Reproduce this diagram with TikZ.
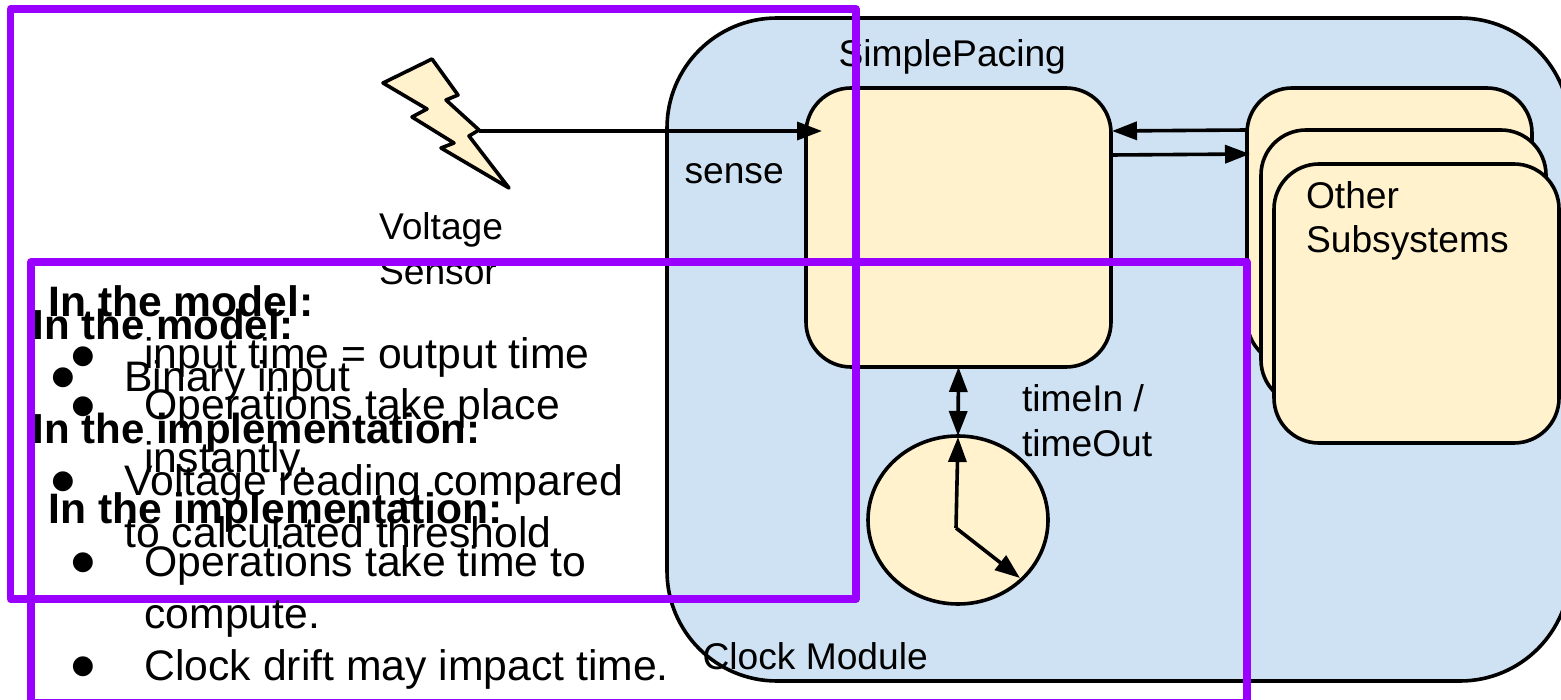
\documentclass[tikz,border=0pt]{standalone}
\usepackage{fontspec}
\setmainfont{Liberation Sans}
\newfontfamily\bulfont{DejaVu Sans}
\usetikzlibrary{arrows.meta,shapes.geometric}
\definecolor{modblue}{HTML}{CFE2F3}
\definecolor{partyellow}{HTML}{FFF2CC}
\definecolor{notepurple}{HTML}{9900FF}
\tikzset{
  blk/.style={draw=black,line width=3.6pt,outer sep=0pt,inner sep=0pt},
  modbox/.style={blk,fill=modblue,rounded corners=110pt},
  partbox/.style={blk,fill=partyellow,rounded corners=45pt},
  conn/.style={line width=3.6pt,-{Triangle[length=25pt,width=18pt]}},
  conntwo/.style={line width=3.6pt,{Triangle[length=25pt,width=18pt]}-{Triangle[length=25pt,width=18pt]}},
  note/.style={draw=notepurple,line width=7.5pt,line join=round},
  lab/.style={anchor=base west,inner sep=0pt,outer sep=0pt,font=\fontsize{37.2}{44}\selectfont},
  big/.style={anchor=base west,inner sep=0pt,outer sep=0pt,font=\fontsize{42.7}{52}\selectfont},
  bigb/.style={big,font=\fontsize{42.6}{52}\selectfont\bfseries},
  biga/.style={big,font=\fontsize{42}{52}\selectfont\bfseries},
  bul/.style={anchor=center,inner sep=0pt,outer sep=0pt,font=\bulfont\fontsize{26}{26}\selectfont}
}
\begin{document}
\begin{tikzpicture}[x=1pt,y=-1pt]
\useasboundingbox (0,0) rectangle (1561,700);
\clip (0,0) rectangle (1561,700);
\fill[white] (0,0) rectangle (1561,700);
% clock module
\node[modbox,minimum width=903pt,minimum height=663pt] (module) at (1118.5,349.5) {};
% lightning
\draw[blk,fill=partyellow,line join=round] (432,59) -- (458,95) -- (446,100) -- (479,130) -- (469,136) -- (509,188) -- (441,148) -- (454,143) -- (412,117) -- (427,109) -- (383,83) -- cycle;
\coordinate (bolt) at (479,131);
% boxes
\node[partbox,minimum width=305pt,minimum height=279pt] (pacing) at (958.5,227.5) {};
\node[partbox,minimum width=285pt,minimum height=277pt] (otherA) at (1389.5,226.5) {};
\node[partbox,minimum width=285pt,minimum height=275pt] (otherB) at (1403.5,267.5) {};
\node[partbox,minimum width=285pt,minimum height=279pt] (otherC) at (1416.5,303.5) {};
\node[blk,fill=partyellow,ellipse,minimum width=180pt,minimum height=168pt] (clock) at (958,520) {};
\coordinate (hub) at (956,528);
\coordinate (hourtip) at (1020,578);
\coordinate (mintip) at (958,437);
\coordinate (senseend) at (822,131);
\coordinate (oa) at (1247,130);
\coordinate (pa) at (1112,131);
\coordinate (pb) at (1111,155);
\coordinate (ob) at (1250,154);
% connectors
\draw[conn] (bolt) -- (senseend);
\draw[conn] (oa) -- (pa);
\draw[conn] (pb) -- (ob);
\draw[conntwo] (pacing.south) -- (clock.north);
\draw[conn] (hub) -- (mintip);
\draw[conn] (hub) -- (hourtip);
% labels
\node[lab] (l1) at (838.5,66.5) {SimplePacing};
\node[lab] (l2) at (684.5,184) {sense};
\node[lab] (l3) at (379,239.5) {Voltage};
\node[lab] (l4) at (379,284.5) {Sensor};
\node[lab] (l5) at (1022,412) {timeIn /};
\node[lab] (l6) at (1022,456) {timeOut};
\node[lab] (l7) at (1306,209) {Other};
\node[lab] (l8) at (1306,252.5) {Subsystems};
\node[lab] (l9) at (702.5,669) {Clock Module};
% note 1
\draw[note] (10.5,9) rectangle (856,599);
\node[biga] (a1) at (32.5,339.5) {In the model:};
\node[bul] (a2) at (63,378) {●};
\node[big] (a3) at (124.5,391.5) {Binary input};
\node[biga] (a4) at (32.5,443.5) {In the implementation:};
\node[bul] (a5) at (63,482) {●};
\node[big] (a6) at (124.5,495) {Voltage reading compared};
\node[big] (a7) at (124.5,547) {to calculated threshold};
% note 2
\draw[note] (31,262) rectangle (1247,703);
\node[bigb] (b1) at (48.5,316.5) {In the model:};
\node[bul] (b2) at (83,357) {●};
\node[big] (b3) at (144.5,368.5) {input time = output time};
\node[bul] (b4) at (83,407) {●};
\node[big] (b5) at (144.5,420) {Operations take place};
\node[big] (b6) at (144.5,472) {instantly.};
\node[bigb] (b7) at (48.5,523.5) {In the implementation:};
\node[bul] (b8) at (83,563) {●};
\node[big] (b9) at (144.5,576.5) {Operations take time to};
\node[big] (b10) at (144.5,628.5) {compute.};
\node[bul] (b11) at (83,667) {●};
\node[big] (b12) at (144.5,680) {Clock drift may impact time.};
\end{tikzpicture}
\end{document}
